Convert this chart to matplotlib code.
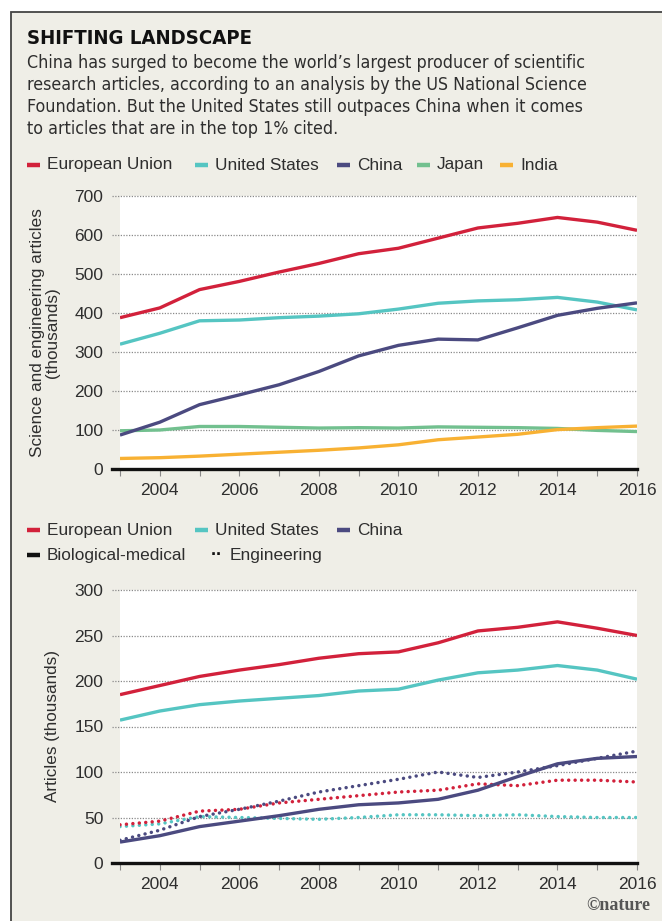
'''Shifting landscape: science and engineering article output by country'''

import matplotlib
matplotlib.use('Agg')
import matplotlib.pyplot as plt
from matplotlib.patches import Rectangle
from matplotlib.lines import Line2D

years = list(range(2003, 2017))

# top panel: all science & engineering articles (thousands)
eu_total = [388, 413, 460, 481, 505, 527, 552, 566, 592, 618, 630, 645, 633, 612]
us_total = [320, 348, 380, 382, 388, 392, 398, 410, 425, 431, 434, 440, 428, 408]
china_total = [87, 120, 165, 190, 216, 250, 290, 317, 333, 331, 362, 394, 412, 426]
japan_total = [98, 100, 109, 109, 107, 105, 106, 105, 108, 107, 106, 104, 99, 96]
india_total = [27, 29, 33, 38, 43, 48, 54, 62, 75, 82, 89, 101, 106, 110]

# bottom panel: biological-medical (solid) and engineering (dotted)
eu_bio = [185, 195, 205, 212, 218, 225, 230, 232, 242, 255, 259, 265, 258, 250]
us_bio = [157, 167, 174, 178, 181, 184, 189, 191, 201, 209, 212, 217, 212, 202]
china_bio = [23, 30, 40, 46, 52, 59, 64, 66, 70, 80, 95, 109, 115, 117]
eu_eng = [42, 46, 57, 59, 66, 70, 74, 78, 80, 87, 85, 91, 91, 89]
us_eng = [40, 43, 51, 50, 49, 48, 50, 53, 53, 52, 53, 51, 50, 50]
china_eng = [25, 36, 51, 59, 68, 78, 85, 92, 100, 94, 100, 107, 115, 123]

RED = '#d2213b'
CYAN = '#55c5c2'
NAVY = '#4b4a80'
GREEN = '#72c08f'
ORANGE = '#f8b133'
BEIGE = '#efeee7'
TEXT = '#2e2e2e'

SANS = ['Liberation Sans', 'DejaVu Sans']

W, H = 662, 921
fig = plt.figure(figsize=(W / 100, H / 100), dpi=100, facecolor='white')


def fx(px):
    return px / W


def fy(py):
    return 1 - py / H


# beige panel with a thin dark frame (cropped at right/bottom)
fig.patches.append(Rectangle((fx(11), -0.01), 1.0, fy(12) + 0.01, transform=fig.transFigure,
                             facecolor=BEIGE, edgecolor='#444444', linewidth=1.3, zorder=-10))

fig.text(fx(27), fy(38), 'SHIFTING LANDSCAPE', family='DejaVu Sans', stretch='condensed',
         weight='bold', fontsize=14.6, color='#111111', va='center', ha='left')
subtitle = ['China has surged to become the world\u2019s largest producer of scientific',
            'research articles, according to an analysis by the US National Science',
            'Foundation. But the United States still outpaces China when it comes',
            'to articles that are in the top 1% cited.']
for i, line in enumerate(subtitle):
    fig.text(fx(27), fy(63 + 22 * i), line, family='DejaVu Sans', stretch='condensed',
             fontsize=12.8, color=TEXT, va='center', ha='left')


def legend_item(x, y, color, label, dotted=False):
    if dotted:
        fig.text(fx(x + 1), fy(y), '\u00b7\u00b7', family=SANS, weight='bold',
                 fontsize=13, color='#111111', va='center', ha='left')
    else:
        fig.add_artist(Line2D([fx(x), fx(x + 13)], [fy(y), fy(y)], transform=fig.transFigure,
                              color=color, linewidth=3.2, solid_capstyle='butt'))
    fig.text(fx(x + 20), fy(y), label, family=SANS, fontsize=12.4, color=TEXT,
             va='center', ha='left')


def style_axes(ax, ymax, step):
    ax.set_facecolor('white')
    ax.set_xlim(2003, 2016)
    ax.set_ylim(0, ymax)
    for s in ax.spines.values():
        s.set_visible(False)
    yt = list(range(0, ymax + 1, step))
    ax.set_yticks(yt)
    ax.set_yticklabels([str(v) for v in yt], family=SANS, fontsize=12.5, color=TEXT)
    ax.tick_params(axis='y', length=0, pad=12)
    ax.set_xticks(years, minor=True)
    ax.set_xticks(list(range(2004, 2017, 2)))
    ax.set_xticklabels([str(v) for v in range(2004, 2017, 2)], family=SANS,
                       fontsize=12.5, color=TEXT)
    ax.tick_params(axis='x', which='both', length=5, width=0.8, color='#888888',
                   direction='out', pad=5)
    for v in yt[1:]:
        ax.axhline(v, xmin=-0.015, xmax=1, color='#8a8a8a', linewidth=0.9,
                   linestyle=(0, (1, 1.2)), clip_on=False, zorder=1)
    ax.axhline(0, xmin=-0.015, xmax=1, color='#111111', linewidth=2.4, clip_on=False, zorder=5)


# top panel
ax1 = fig.add_axes([fx(120), fy(469), fx(637) - fx(120), fy(196) - fy(469)])
style_axes(ax1, 700, 100)
for vals, col in [(japan_total, GREEN), (india_total, ORANGE), (us_total, CYAN),
                  (china_total, NAVY), (eu_total, RED)]:
    ax1.plot(years, vals, color=col, linewidth=2.4, solid_capstyle='butt', zorder=3)
ax1.set_ylabel('Science and engineering articles\n(thousands)', family=SANS,
               fontsize=12.3, color=TEXT, labelpad=10, linespacing=1.05)

legend_item(27, 165, RED, 'European Union')
legend_item(195, 165, CYAN, 'United States')
legend_item(337, 165, NAVY, 'China')
legend_item(417, 165, GREEN, 'Japan')
legend_item(500, 165, ORANGE, 'India')

# bottom panel
ax2 = fig.add_axes([fx(120), fy(863), fx(637) - fx(120), fy(590) - fy(863)])
style_axes(ax2, 300, 50)
for vals, col in [(us_eng, CYAN), (eu_eng, RED), (china_eng, NAVY)]:
    ax2.plot(years, vals, color=col, linewidth=2.5, linestyle=(0, (0.01, 1.85)),
             dash_capstyle='round', zorder=3)
for vals, col in [(us_bio, CYAN), (eu_bio, RED), (china_bio, NAVY)]:
    ax2.plot(years, vals, color=col, linewidth=2.4, solid_capstyle='butt', zorder=4)
ax2.set_ylabel('Articles (thousands)', family=SANS, fontsize=12.3, color=TEXT, labelpad=10)

legend_item(27, 530, RED, 'European Union')
legend_item(195, 530, CYAN, 'United States')
legend_item(337, 530, NAVY, 'China')
legend_item(27, 555, '#111111', 'Biological-medical')
legend_item(210, 555, None, 'Engineering', dotted=True)

fig.text(fx(650), fy(905), '\u00a9nature', family=['Liberation Serif', 'DejaVu Serif'],
         weight='bold', fontsize=13, color='#555555', ha='right', va='center')

fig.savefig('out.png', dpi=100, facecolor='white')
